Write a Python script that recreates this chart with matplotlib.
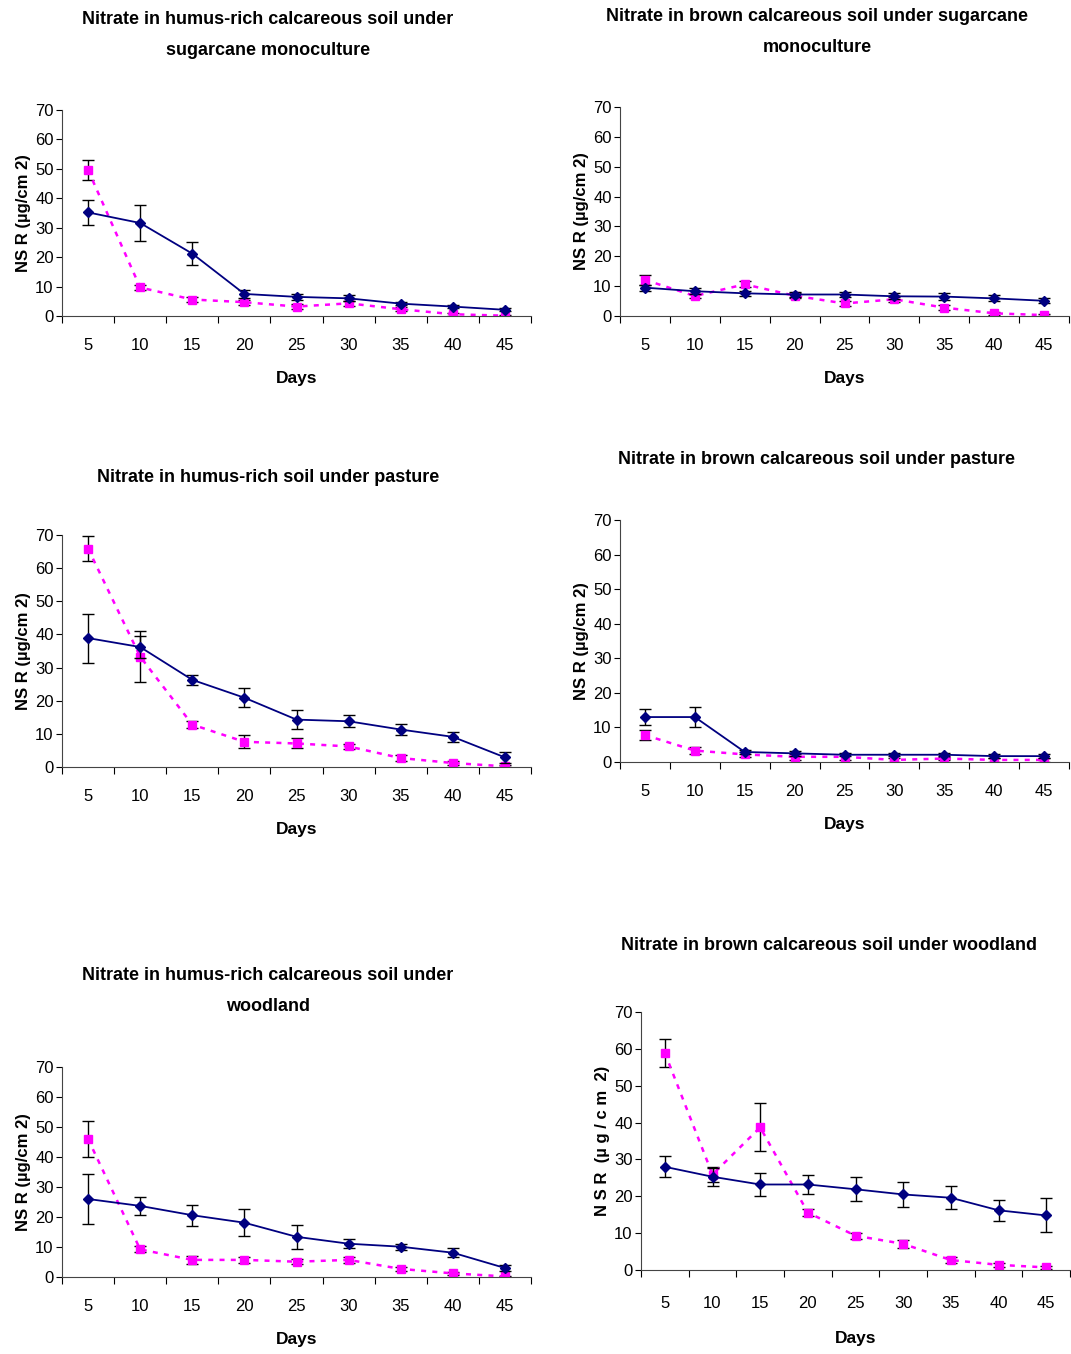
import matplotlib
matplotlib.use("Agg")
import matplotlib.pyplot as plt
import numpy as np

plt.rcParams['font.family'] = ['Liberation Sans Narrow', 'Liberation Sans', 'DejaVu Sans']

days = [5, 10, 15, 20, 25, 30, 35, 40, 45]

# humus-rich calcareous soil, sugarcane
hs_blue = [35.2, 31.6, 21.2, 7.5, 6.5, 6.0, 4.2, 3.2, 2.1]
hs_blue_err = [4.2, 6.0, 4.0, 1.5, 1.0, 1.0, 0.5, 0.5, 0.5]
hs_pink = [49.6, 9.7, 5.6, 4.7, 3.2, 4.3, 2.3, 0.6, 0.1]
hs_pink_err = [3.3, 1.0, 0.8, 0.8, 0.8, 0.8, 0.7, 0.5, 0.3]

# brown calcareous soil, sugarcane
bs_blue = [9.5, 8.3, 7.6, 7.2, 7.2, 6.6, 6.5, 5.9, 5.1]
bs_blue_err = [1.0, 1.0, 0.8, 0.8, 1.0, 1.0, 1.3, 1.0, 0.8]
bs_pink = [12.1, 6.7, 10.6, 6.8, 4.2, 5.6, 2.8, 0.9, 0.3]
bs_pink_err = [1.6, 0.8, 1.0, 0.8, 0.8, 0.8, 0.8, 0.5, 0.3]

# humus-rich soil, pasture
hp_blue = [38.9, 36.2, 26.3, 20.9, 14.3, 13.8, 11.3, 9.1, 2.9]
hp_blue_err = [7.4, 3.2, 1.5, 2.8, 2.8, 1.8, 1.6, 1.5, 1.7]
hp_pink = [65.9, 33.3, 12.8, 7.6, 7.1, 6.2, 2.7, 1.2, 0.2]
hp_pink_err = [3.8, 7.6, 1.0, 2.0, 1.5, 0.8, 0.8, 0.5, 0.3]

# brown calcareous soil, pasture
bp_blue = [13.0, 13.0, 2.9, 2.5, 2.1, 2.1, 2.1, 1.7, 1.7]
bp_blue_err = [2.2, 2.8, 0.5, 0.8, 0.5, 0.5, 0.5, 0.5, 0.5]
bp_pink = [7.8, 3.3, 2.2, 1.5, 1.5, 0.6, 1.0, 0.6, 0.6]
bp_pink_err = [1.5, 1.0, 0.8, 0.8, 0.8, 0.5, 0.5, 0.5, 0.5]

# humus-rich calcareous soil, woodland
hw_blue = [26.0, 23.7, 20.6, 18.1, 13.4, 11.1, 10.1, 8.1, 3.0]
hw_blue_err = [8.2, 3.0, 3.5, 4.5, 4.0, 1.5, 1.0, 1.5, 1.0]
hw_pink = [46.0, 9.2, 5.7, 5.7, 5.1, 5.7, 2.7, 1.2, 0.2]
hw_pink_err = [6.0, 1.0, 1.2, 1.0, 0.8, 1.0, 0.8, 0.5, 0.3]

# brown calcareous soil, woodland
bw_blue = [28.0, 25.3, 23.2, 23.2, 21.9, 20.5, 19.6, 16.2, 14.8]
bw_blue_err = [2.8, 2.5, 3.0, 2.6, 3.2, 3.5, 3.1, 2.9, 4.6]
bw_pink = [58.9, 25.9, 38.7, 15.6, 9.3, 7.1, 2.7, 1.4, 0.7]
bw_pink_err = [3.8, 2.0, 6.5, 1.0, 0.8, 1.0, 0.8, 0.6, 0.5]

W, H = 1071, 1354
fig = plt.figure(figsize=(W / 100, H / 100), dpi=100)

def px_axes(left, right, y0, y70):
    return fig.add_axes([left / W, 1 - y0 / H, (right - left) / W, (y0 - y70) / H])

def draw_panel(ax, blue, blue_err, pink, pink_err, ylab, tpad=16, dpad=13):
    x = np.arange(len(days))
    ax.errorbar(x, pink, yerr=pink_err, color='#FF00FF', ls=(0, (2, 2.5)), lw=1.8,
                marker='s', ms=6, ecolor='black', elinewidth=1, capsize=4, capthick=1, zorder=2)
    ax.errorbar(x, blue, yerr=blue_err, color='#000080', ls='-', lw=1.3,
                marker='D', ms=5, ecolor='black', elinewidth=1, capsize=4, capthick=1, zorder=3)
    ax.set_xlim(-0.5, len(days) - 0.5)
    ax.set_ylim(0, 70)
    ax.set_yticks(range(0, 71, 10))
    ax.set_xticks(np.arange(len(days) + 1) - 0.5)
    ax.set_xticklabels([])
    ax.set_xticks(x, minor=True)
    ax.set_xticklabels([str(d) for d in days], minor=True)
    ax.tick_params(axis='x', which='minor', length=0, pad=tpad, labelsize=12)
    ax.tick_params(axis='x', which='major', length=5, direction='out')
    ax.tick_params(axis='y', length=4, direction='out', labelsize=12, pad=2)
    for s in ['top', 'right']:
        ax.spines[s].set_visible(False)
    ax.spines['left'].set_color('#444444')
    ax.spines['bottom'].set_color('#444444')
    ax.set_ylabel(ylab, family=['Liberation Sans', 'DejaVu Sans'], fontsize=12,
                  fontweight='bold', labelpad=3)
    ax.set_xlabel('Days', fontsize=12.5, fontweight='bold', labelpad=dpad)

ylab = 'NS R (µg/cm 2)'

ax1 = px_axes(62, 531, 316, 110)
draw_panel(ax1, hs_blue, hs_blue_err, hs_pink, hs_pink_err, ylab)
ax2 = px_axes(620, 1069, 316, 107)
draw_panel(ax2, bs_blue, bs_blue_err, bs_pink, bs_pink_err, ylab)
ax3 = px_axes(62, 531, 767, 535)
draw_panel(ax3, hp_blue, hp_blue_err, hp_pink, hp_pink_err, ylab)
ax4 = px_axes(620, 1069, 762, 520)
draw_panel(ax4, bp_blue, bp_blue_err, bp_pink, bp_pink_err, ylab)
ax5 = px_axes(62, 531, 1277, 1067)
draw_panel(ax5, hw_blue, hw_blue_err, hw_pink, hw_pink_err, ylab)
ax6 = px_axes(641, 1070, 1270, 1012)
draw_panel(ax6, bw_blue, bw_blue_err, bw_pink, bw_pink_err, 'N S R  (µ g / c m  2)',
           tpad=19, dpad=14)

titles = [
    (268, 35, 'Nitrate in humus-rich calcareous soil under\nsugarcane monoculture'),
    (817, 32, 'Nitrate in brown calcareous soil under sugarcane\nmonoculture'),
    (268, 477, 'Nitrate in humus-rich soil under pasture'),
    (817, 460, 'Nitrate in brown calcareous soil under pasture'),
    (268, 991, 'Nitrate in humus-rich calcareous soil under\nwoodland'),
    (829, 946, 'Nitrate in brown calcareous soil under woodland'),
]
for tx, ty, t in titles:
    fig.text(tx / W, 1 - ty / H, t, ha='center', va='center', fontsize=13,
             fontweight='bold', linespacing=2.1)

fig.savefig('out.png', dpi=100)
